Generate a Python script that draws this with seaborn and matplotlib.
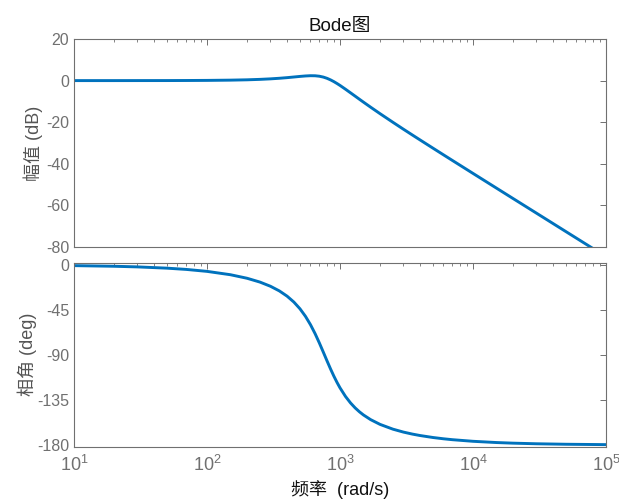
import numpy as np
import pandas as pd
import matplotlib
matplotlib.use("Agg")
import matplotlib.pyplot as plt
import matplotlib.ticker as mticker
import seaborn as sns

# Values
freq = [10, 20, 30, 50, 70, 100, 150, 200, 250, 300, 350, 400, 450, 500, 550,
        600, 650, 700, 750, 800, 850, 900, 950, 1000, 1100, 1200, 1300, 1400,
        1500, 1700, 2000, 2500, 3000, 3500, 4000, 5000, 6000, 7000, 10000,
        15000, 20000, 30000, 50000, 100000]
mag_db = [0.00, 0.00, 0.01, 0.02, 0.05, 0.10, 0.22, 0.38, 0.59, 0.84, 1.12, 1.42,
          1.73, 2.01, 2.23, 2.35, 2.32, 2.10, 1.68, 1.08, 0.33, -0.51, -1.41,
          -2.32, -4.15, -5.88, -7.48, -8.97, -10.34, -12.79, -15.90, -20.05,
          -23.38, -26.15, -28.53, -32.48, -35.69, -38.39, -44.62, -51.68,
          -56.69, -63.73, -72.61, -84.65]
phase_deg = [-0.63, -1.26, -1.89, -3.16, -4.43, -6.37, -9.72, -13.26, -17.08,
             -21.27, -25.92, -31.15, -37.07, -43.79, -51.34, -59.71, -68.71,
             -78.05, -87.30, -96.08, -104.11, -111.24, -117.46, -122.84, -131.47,
             -137.94, -142.91, -146.80, -149.93, -154.64, -159.38, -164.17,
             -167.10, -169.09, -170.53, -172.50, -173.79, -174.69, -176.30,
             -177.54, -178.16, -178.77, -179.26, -179.63]
mag_ticks = [20, 0, -20, -40, -60, -80]
phase_ticks = [0, -45, -90, -135, -180]
title_text = "Bode图"
mag_label = "幅值 (dB)"
phase_label = "相角 (deg)"
x_label = "频率  (rad/s)"

df = pd.DataFrame({"freq": freq, "mag": mag_db, "phase": phase_deg})

sns.set_theme(style="white")
plt.rcParams['font.family'] = ['Liberation Sans', 'Noto Sans CJK SC', 'DejaVu Sans']
plt.rcParams['mathtext.fontset'] = 'custom'
plt.rcParams['mathtext.rm'] = 'Liberation Sans'
plt.rcParams['mathtext.it'] = 'Liberation Sans'
plt.rcParams['axes.unicode_minus'] = False

line_color = "#0072BD"
axis_gray = "#707070"
label_gray = "#555555"

fig = plt.figure(figsize=(6.19, 5.03), dpi=100)
ax1 = fig.add_axes([74/619, 1-247/503, 532/619, 208/503])
ax2 = fig.add_axes([74/619, 1-446.5/503, 532/619, 183.5/503])

sns.lineplot(data=df, x="freq", y="mag", ax=ax1, color=line_color, lw=2.1)
sns.lineplot(data=df, x="freq", y="phase", ax=ax2, color=line_color, lw=2.1)

for ax in (ax1, ax2):
    ax.set_xscale("log")
    ax.set_xlim(10, 1e5)
    for s in ax.spines.values():
        s.set_color(axis_gray)
        s.set_linewidth(0.8)
    ax.tick_params(which="both", direction="in", top=True, right=True,
                   colors=axis_gray, labelcolor=axis_gray, labelsize=11.5)
    ax.tick_params(which="major", length=4.5, width=0.7)
    ax.tick_params(which="minor", length=2.5, width=0.6)
    ax.xaxis.set_minor_locator(mticker.LogLocator(base=10, subs=np.arange(2, 10), numticks=20))
    ax.xaxis.set_minor_formatter(mticker.NullFormatter())
    ax.grid(False)

ax1.set_ylim(-80, 20)
ax1.set_yticks(mag_ticks)
ax1.tick_params(axis="x", labelbottom=False)
ax1.set_xlabel("")
ax1.set_ylabel(mag_label, color=label_gray, fontsize=13, labelpad=2)
ax1.set_title(title_text, fontsize=13.5, color="#111111", pad=6)

ax2.set_ylim(-181.5, 2)
ax2.set_yticks(phase_ticks)
ax2.set_xticks([1e1, 1e2, 1e3, 1e4, 1e5])
ax2.xaxis.set_major_formatter(mticker.LogFormatterSciNotation())
ax2.tick_params(axis="x", labelsize=13, pad=6)
ax2.set_ylabel(phase_label, color=label_gray, fontsize=13, labelpad=0)
ax2.set_xlabel(x_label, color="#111111", fontsize=13, labelpad=4)

fig.savefig("out.png", dpi=100)
